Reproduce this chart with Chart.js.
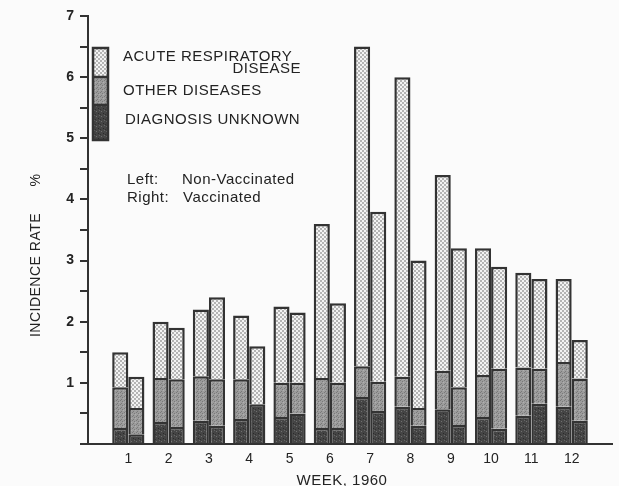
<!DOCTYPE html>
<html>
<head>
<meta charset="utf-8">
<script src="https://cdn.jsdelivr.net/npm/chart.js@4"></script>
<style>
    html, body { margin: 0; padding: 0; background: #fbfbfb; }
    #wrap { width: 619px; height: 486px; }
</style>
</head>
<body>
<div id="wrap"><canvas id="incidenceChart" width="619" height="486"></canvas></div>
<script>
// week numbers along the bottom
const weeks = [1, 2, 3, 4, 5, 6, 7, 8, 9, 10, 11, 12];

// left bar of each pair: non-vaccinated (incidence rate %)
const nonVaccUnknown = [0.26, 0.36, 0.38, 0.41, 0.44, 0.26, 0.77, 0.61, 0.57, 0.44, 0.46, 0.61];
const nonVaccOther = [0.67, 0.72, 0.73, 0.65, 0.56, 0.82, 0.50, 0.49, 0.63, 0.69, 0.79, 0.73];
const nonVaccRespiratory = [0.57, 0.92, 1.09, 1.04, 1.25, 2.52, 5.23, 4.90, 3.20, 2.07, 1.55, 1.36];

// right bar of each pair: vaccinated
const vaccUnknown = [0.16, 0.28, 0.30, 0.65, 0.50, 0.26, 0.54, 0.30, 0.31, 0.25, 0.66, 0.38];
const vaccOther = [0.43, 0.78, 0.76, 0.00, 0.50, 0.74, 0.48, 0.29, 0.62, 0.98, 0.57, 0.69];
const vaccRespiratory = [0.51, 0.84, 1.34, 0.95, 1.15, 1.30, 2.78, 2.41, 2.27, 1.67, 1.47, 0.63];

const yTicks = [1, 2, 3, 4, 5, 6, 7];

const ink = '#333333';
const textInk = '#232323';

// small stipple textures like the printed shading
function makePattern(size, bg, dots) {
    const c = document.createElement('canvas');
    c.width = size;
    c.height = size;
    const g = c.getContext('2d');
    g.fillStyle = bg;
    g.fillRect(0, 0, size, size);
    dots.forEach(d => {
        g.fillStyle = d[4];
        g.fillRect(d[0], d[1], d[2], d[3]);
    });
    return g.createPattern(c, 'repeat');
}

const ctx = document.getElementById('incidenceChart').getContext('2d');

const respPattern = makePattern(4, '#f3f3f3', [[0, 0, 2, 2, '#b4b4b4'], [2, 2, 2, 2, '#b4b4b4']]);
const otherPattern = makePattern(4, '#9c9c9c', [[0, 0, 1, 1, '#7a7a7a'], [2, 1, 1, 1, '#7a7a7a'], [1, 3, 1, 1, '#7a7a7a'], [3, 2, 1, 1, '#b0b0b0']]);
const unknownPattern = makePattern(5, '#454545', [[1, 1, 1, 1, '#707070'], [3, 3, 1, 1, '#2a2a2a'], [4, 0, 1, 1, '#666666'], [0, 4, 1, 1, '#303030']]);

function barSet(label, data, fill, stack) {
    return {
        label: label,
        data: data,
        stack: stack,
        backgroundColor: fill,
        borderColor: ink,
        borderWidth: 2.5,
        categoryPercentage: 0.8,
        barPercentage: 1.0
    };
}

// legend box, notes and axis titles drawn straight on the canvas
const annotations = {
    id: 'annotations',
    afterDraw(chart) {
        const c = chart.ctx;
        c.save();

        // stacked legend key
        const kx = 93, kw = 15;
        const parts = [[48, 77, respPattern], [77, 105, otherPattern], [105, 140, unknownPattern]];
        parts.forEach(p => {
            c.fillStyle = p[2];
            c.fillRect(kx, p[0], kw, p[1] - p[0]);
        });
        c.strokeStyle = ink;
        c.lineWidth = 2.5;
        c.strokeRect(kx, 48, kw, 92);
        c.beginPath();
        c.moveTo(kx, 77); c.lineTo(kx + kw, 77);
        c.moveTo(kx, 105); c.lineTo(kx + kw, 105);
        c.stroke();

        c.fillStyle = textInk;
        c.textBaseline = 'alphabetic';
        c.font = '15px "Liberation Sans", Arial, sans-serif';
        c.letterSpacing = '0.5px';
        c.textAlign = 'left';
        c.fillText('ACUTE RESPIRATORY', 123, 61);
        c.textAlign = 'right';
        c.fillText('DISEASE', 301, 73);
        c.textAlign = 'left';
        c.fillText('OTHER DISEASES', 123, 95);
        c.fillText('DIAGNOSIS UNKNOWN', 125, 124);

        c.fillText('Left:', 127, 184);
        c.fillText('Non-Vaccinated', 182, 184);
        c.fillText('Right:', 127, 202);
        c.fillText('Vaccinated', 183, 202);

        // x axis title
        c.textAlign = 'center';
        c.fillText('WEEK, 1960', 342, 485);

        // y axis title, rotated
        c.translate(40, 0);
        c.rotate(-Math.PI / 2);
        c.font = '14px "Liberation Sans", Arial, sans-serif';
        c.fillText('INCIDENCE RATE', -275, 0);
        c.fillText('%', -180, 0);
        c.restore();
    }
};

new Chart(ctx, {
    type: 'bar',
    data: {
        labels: weeks,
        datasets: [
            barSet('Diagnosis unknown (non-vaccinated)', nonVaccUnknown, unknownPattern, 'left'),
            barSet('Other diseases (non-vaccinated)', nonVaccOther, otherPattern, 'left'),
            barSet('Acute respiratory disease (non-vaccinated)', nonVaccRespiratory, respPattern, 'left'),
            barSet('Diagnosis unknown (vaccinated)', vaccUnknown, unknownPattern, 'right'),
            barSet('Other diseases (vaccinated)', vaccOther, otherPattern, 'right'),
            barSet('Acute respiratory disease (vaccinated)', vaccRespiratory, respPattern, 'right')
        ]
    },
    options: {
        responsive: false,
        animation: false,
        events: [],
        layout: { padding: { left: 0, right: 7, top: 16, bottom: 0 } },
        plugins: {
            legend: { display: false },
            tooltip: { enabled: false }
        },
        scales: {
            x: {
                type: 'linear',
                stacked: true,
                offset: false,
                min: 0,
                max: 13,
                afterFit: s => { s.height = 42; },
                grid: { display: false, drawTicks: false },
                border: { display: true, color: ink, width: 2 },
                ticks: {
                    stepSize: 1,
                    padding: 7,
                    color: textInk,
                    font: { family: '"Liberation Sans", Arial, sans-serif', size: 14 },
                    callback: v => weeks.includes(v) ? String(v) : ''
                }
            },
            y: {
                stacked: true,
                min: 0,
                max: 7,
                afterFit: s => { s.width = 88; },
                grid: { drawOnChartArea: false, drawTicks: true, tickLength: 8, color: ink, lineWidth: 2 },
                border: { display: true, color: ink, width: 2 },
                ticks: {
                    stepSize: 0.5,
                    padding: 6,
                    color: textInk,
                    font: { family: '"Liberation Sans", Arial, sans-serif', size: 14, weight: 'bold' },
                    callback: v => yTicks.includes(v) ? String(v) : ''
                }
            }
        }
    },
    plugins: [annotations]
});
</script>
</body>
</html>
